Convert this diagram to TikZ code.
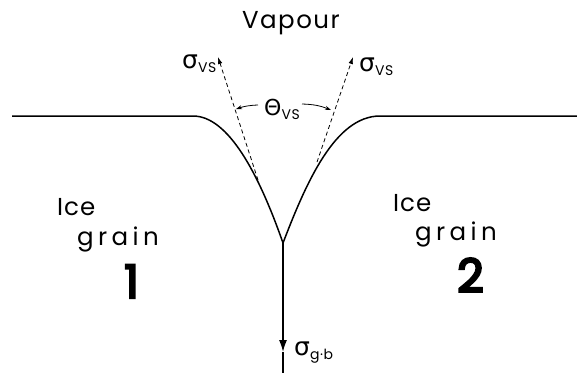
\documentclass[tikz,border=0pt]{standalone}
\usepackage{fontspec}
\setmainfont{Poppins}
\newfontfamily\greek{DejaVu Sans}
\newfontfamily\digitfont{Poppins}[FakeBold=5]
\usetikzlibrary{arrows.meta}
\newcommand\mysub[1]{\raisebox{-4.5pt}{\fontsize{14}{14}\selectfont\addfontfeatures{LetterSpace=4}#1}}
\newcommand\spaced[2]{{\addfontfeatures{LetterSpace=#1}#2}}
\begin{document}
\begin{tikzpicture}[x=1pt,y=-1pt,
  surf/.style={line width=1.5pt, line join=round},
  tang/.style={dash pattern=on 4pt off 3pt, line width=0.8pt, -{Latex[length=7pt,width=4.5pt]}},
  thetaarrow/.style={line width=0.8pt, -{Stealth[length=6pt,width=4pt]}},
  lbl/.style={inner sep=0pt, anchor=base west, font=\fontsize{24.5}{24.5}\selectfont},
  greeklbl/.style={inner sep=0pt, anchor=base west, font=\fontsize{25}{25}\selectfont},
  digit/.style={inner sep=0pt, anchor=base west, font=\fontsize{46}{46}\selectfont\digitfont}
]
\useasboundingbox (0,0) rectangle (577,373);
% surface
\coordinate (L0) at (12,116);
\coordinate (L1) at (193,116);
\coordinate (R) at (283,243);
\coordinate (R1) at (380,116);
\coordinate (R0) at (577,116);
\coordinate (A) at (283,352);
\coordinate (B) at (283,373);
\draw[surf] (L0) -- (L1) .. controls (228,116) and (258.5,173) .. (R)
  .. controls (306,183) and (335,116) .. (R1) -- (R0);
\draw[surf, -{Latex[length=12pt,width=8pt]}] (R) -- (A);
\draw[surf] (A) -- (B);
% tangents
\coordinate (TL) at (258,180);
\coordinate (TLtip) at (218,57);
\coordinate (TR) at (317,162);
\coordinate (TRtip) at (353,57);
\draw[tang] (TL) -- (TLtip);
\draw[tang] (TR) -- (TRtip);
% theta arrows
\coordinate (ThLt) at (258,105);
\coordinate (ThLh) at (236,109);
\coordinate (ThRt) at (302,104);
\coordinate (ThRh) at (331,110);
\draw[thetaarrow] (ThLt) to[bend right=8] (ThLh);
\draw[thetaarrow] (ThRt) to[bend left=10] (ThRh);
% labels
\node[lbl] (vap) at (242,28) {\spaced{6}{Vapour}};
\node[lbl] (ice1) at (57,215) {\spaced{4}{Ice}};
\node[lbl] (gr1) at (77,245) {\spaced{18}{grain}};
\node[digit] (n1) at (124,298) {1};
\node[lbl] (ice2) at (393,211) {\spaced{4}{Ice}};
\node[lbl] (gr2) at (415,240) {\spaced{18}{grain}};
\node[digit] (n2) at (457,292) {2};
\node[greeklbl] (sl) at (182,68) {{\greek σ}\mysub{VS}};
\node[greeklbl] (sr) at (359,71) {{\greek σ}\mysub{VS}};
\node[greeklbl, font=\fontsize{22}{22}\selectfont] (th) at (264,115) {{\greek Θ}\mysub{VS}};
\node[greeklbl] (sg) at (294,355) {{\greek σ}\mysub{g·b}};
\end{tikzpicture}
\end{document}
